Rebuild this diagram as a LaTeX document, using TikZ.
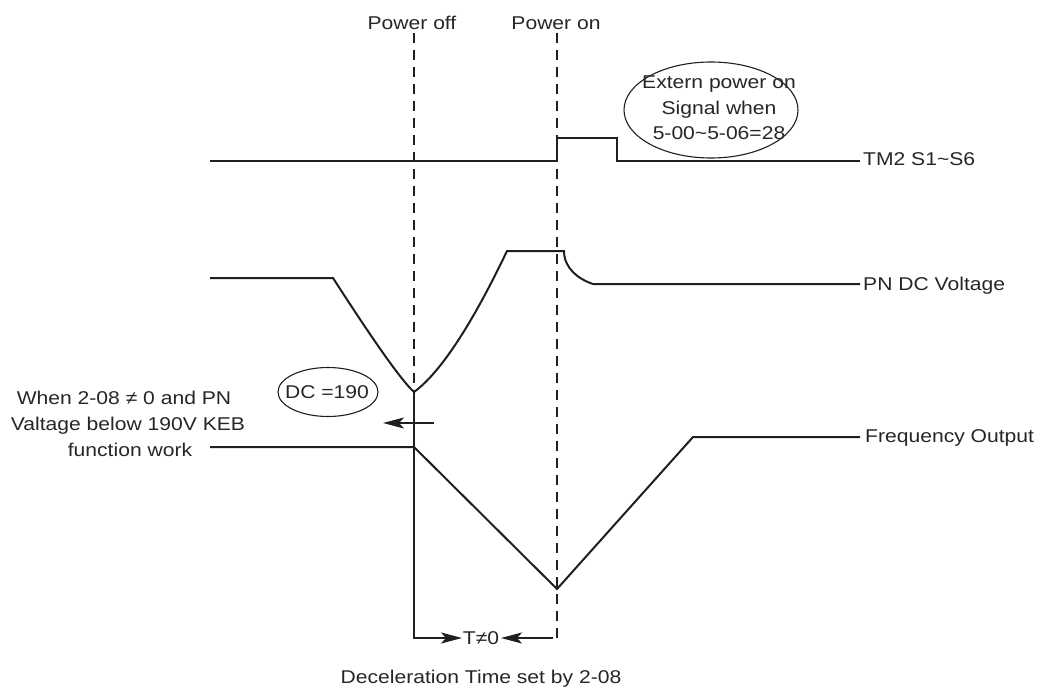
\documentclass[tikz,border=0pt]{standalone}
\usepackage{fontspec}
\setmainfont{Liberation Sans}[FakeStretch=1.14]
\usetikzlibrary{arrows.meta,shapes.geometric}
\begin{document}
\begin{tikzpicture}[x=1pt,y=-1pt,
  sig/.style={line width=2pt, line join=miter, draw=black!88},
  dashv/.style={line width=2pt, draw=black!88, dash pattern=on 10pt off 7pt},
  lbl/.style={font=\fontsize{18.5}{22}\selectfont, inner sep=0pt, text=black!85},
  tip/.style={-{Stealth[length=21pt,width=11pt,inset=5pt]}},
  oval/.style={draw=black!88, ellipse, line width=1.1pt, inner sep=0pt}]
\useasboundingbox (0,0) rectangle (1038,687);
% coordinates
\coordinate (offtop) at (414,33);
\coordinate (ontop) at (557,33);
\coordinate (onbot) at (557,638);
\coordinate (t0) at (210,161);
\coordinate (t1) at (557,161);
\coordinate (t2) at (557,138);
\coordinate (t3) at (617,138);
\coordinate (t4) at (617,161);
\coordinate (t5) at (860,161);
\coordinate (p0) at (210,278);
\coordinate (p1) at (333,278);
\coordinate (pmin) at (414,392);
\coordinate (ptop1) at (507,251);
\coordinate (ptop2) at (564,251);
\coordinate (p5) at (593,284);
\coordinate (p6) at (860,284);
\coordinate (f0) at (210,447);
\coordinate (f1) at (414,447);
\coordinate (f2) at (557,589);
\coordinate (f3) at (693,437);
\coordinate (f4) at (860,437);
\coordinate (tc) at (414,638);
\coordinate (tl) at (462,638);
\coordinate (tr0) at (553,638);
\coordinate (tr) at (501,638);
\coordinate (a0) at (434,423);
\coordinate (a1) at (383,423);
% dashed event lines
\draw[dashv] (offtop) -- (pmin);
\draw[dashv] (ontop) -- (onbot);
% TM2 signal
\draw[sig] (t0) -- (t1) -- (t2) -- (t3) -- (t4) -- (t5);
% PN DC voltage
\draw[sig] (p0) -- (p1) .. controls (374.3,342) and (401,380) .. (pmin)
  .. controls (439.7,373.3) and (471,326.3) .. (ptop1) -- (ptop2)
  .. controls (564,268) and (578,279) .. (p5) -- (p6);
% Frequency output
\draw[sig] (f0) -- (f1) -- (f2) -- (f3) -- (f4);
% vertical and T arrows
\draw[sig,tip] (pmin) -- (tc) -- (tl);
\draw[sig,tip] (tr0) -- (tr);
\draw[sig,tip] (a0) -- (a1);
% ellipses
\node[oval, minimum width=174pt, minimum height=96pt] (ext) at (711,110) {};
\node[oval, minimum width=100pt, minimum height=49pt] (dc) at (328,392) {};
% labels
\node[lbl, anchor=base] (poff) at (412,29.6) {Power off};
\node[lbl, anchor=base] (pon) at (556,29.6) {Power on};
\node[lbl, anchor=base] (e1) at (719,88.6) {Extern power on};
\node[lbl, anchor=base] (e2) at (719,114.6) {Signal when};
\node[lbl, anchor=base] (e3) at (719,139.6) {5-00\textasciitilde 5-06=28};
\node[lbl, anchor=base west] (ltm) at (863,165.6) {TM2 S1\textasciitilde S6};
\node[lbl, anchor=base west] (lpn) at (863,290) {PN DC Voltage};
\node[lbl, anchor=base west] (lfo) at (865,442) {Frequency Output};
\node[lbl, anchor=base] (dct) at (327,398.6) {DC =190};
\node[lbl, anchor=base] (w1) at (124,404.6) {When 2-08 ≠ 0 and PN};
\node[lbl, anchor=base] (w2) at (128,430.6) {Valtage below 190V KEB};
\node[lbl, anchor=base] (w3) at (130,456.6) {function work};
\node[lbl, anchor=base] (tt) at (481,644.6) {T≠0};
\node[lbl, anchor=base] (dec) at (481,683.6) {Deceleration Time set by 2-08};
\end{tikzpicture}
\end{document}
